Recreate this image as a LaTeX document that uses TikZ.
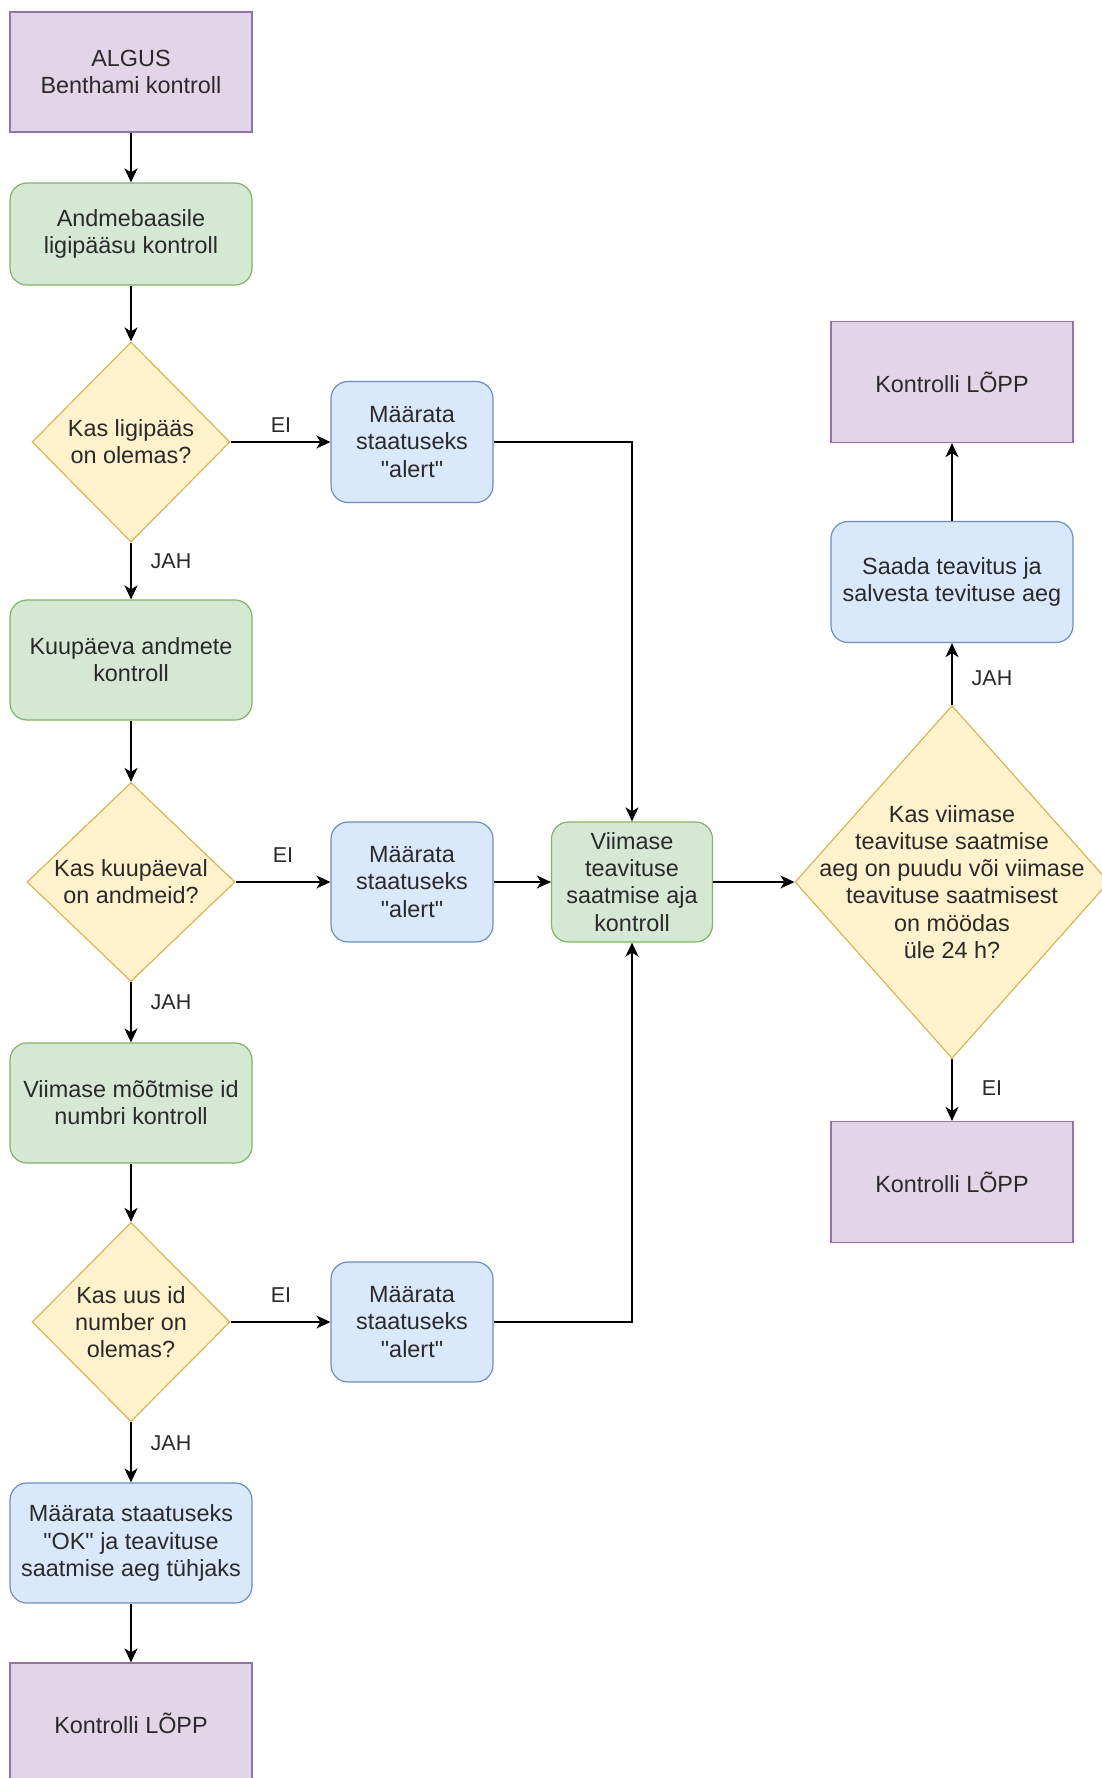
\documentclass[tikz,border=0pt]{standalone}
\usepackage{fontspec}
\setmainfont{Liberation Sans}[Ligatures=TeXOff]
\usetikzlibrary{shapes.geometric,arrows.meta}
\definecolor{pfill}{HTML}{E1D5E7}\definecolor{pdraw}{HTML}{9673A6}
\definecolor{gfill}{HTML}{D5E8D4}\definecolor{gdraw}{HTML}{82B366}
\definecolor{bfill}{HTML}{DAE8FC}\definecolor{bdraw}{HTML}{6C8EBF}
\definecolor{yfill}{HTML}{FFF2CC}\definecolor{ydraw}{HTML}{D6B656}
\definecolor{txt}{HTML}{2A2A2A}
\newcommand{\mainfs}{\fontsize{23.4}{27.2}\selectfont}
\newcommand{\labfs}{\fontsize{21.5}{25}\selectfont}
\begin{document}
\begin{tikzpicture}[x=1pt,y=-1pt,
  box/.style={draw, line width=1.2pt, minimum width=242pt, minimum height=120pt,
    inner sep=0pt, align=center, font=\mainfs, text=txt},
  term/.style={box, fill=pfill, draw=pdraw},
  proc/.style={box, fill=gfill, draw=gdraw, rounded corners=17pt},
  act/.style={box, fill=bfill, draw=bdraw, rounded corners=17pt},
  dec/.style={diamond, draw=ydraw, fill=yfill, line width=1.2pt, inner sep=0pt, aspect=1},
  dtxt/.style={align=center, font=\mainfs, text=txt, inner sep=0pt},
  lab/.style={font=\labfs, text=txt, inner sep=0pt},
  conn/.style={draw=black, line width=1.8pt, -{Stealth[length=14pt,width=13pt,inset=4pt]}}
]
\clip (0,0) rectangle (1102,1778);
\fill[white] (0,0) rectangle (1102,1778);

% left column
\node[term] (start) at (131,72) {ALGUS\\Benthami kontroll};
\node[proc, minimum height=102pt] (a1) at (131,234) {Andmebaasile\\ligipääsu kontroll};
\node[dec, minimum width=198pt, minimum height=200pt] (d1) at (131,442) {};
\node[dtxt] (d1t) at (131,442) {Kas ligipääs\\on olemas?};
\node[act, minimum width=162pt, minimum height=121pt] (b1) at (412,442) {Määrata\\staatuseks\\"alert"};

\node[proc] (a2) at (131,660) {Kuupäeva andmete\\kontroll};
\node[dec, minimum width=208pt, minimum height=199pt] (d2) at (131,882) {};
\node[dtxt] (d2t) at (131,882) {Kas kuupäeval\\on andmeid?};
\node[act, minimum width=162pt] (b2) at (412,882) {Määrata\\staatuseks\\"alert"};

\node[proc] (a3) at (131,1103) {Viimase mõõtmise id\\numbri kontroll};
\node[dec, minimum width=198pt, minimum height=199pt] (d3) at (131,1322) {};
\node[dtxt] (d3t) at (131,1322) {Kas uus id\\number on\\olemas?};
\node[act, minimum width=162pt] (b3) at (412,1322) {Määrata\\staatuseks\\"alert"};

\node[act] (ok) at (131,1543) {Määrata staatuseks\\"OK" ja teavituse\\saatmise aeg tühjaks};
\node[term] (e3) at (131,1723) {Kontrolli LÕPP};

% middle
\node[proc, minimum width=161pt] (g) at (632,882) {Viimase\\teavituse\\saatmise aja\\kontroll};

% right column
\node[dec, minimum width=314pt, minimum height=353pt] (bd) at (952,882) {};
\node[dtxt] (bdt) at (952,882) {Kas viimase\\teavituse saatmise\\aeg on puudu või viimase\\teavituse saatmisest\\on möödas\\üle 24 h?};
\node[act, minimum height=121pt] (s) at (952,582) {Saada teavitus ja\\salvesta tevituse aeg};
\node[term, minimum height=121pt] (e1) at (952,382) {Kontrolli LÕPP};
\node[term, minimum height=121pt] (e2) at (952,1182) {Kontrolli LÕPP};

% connectors
\draw[conn] (start) -- (a1);
\draw[conn] (a1) -- (d1);
\draw[conn] (d1.east) -- (b1.west);
\draw[conn] (d1.south) -- (a2.north);
\draw[conn] (a2) -- (d2);
\draw[conn] (d2.east) -- (b2.west);
\draw[conn] (d2.south) -- (a3.north);
\draw[conn] (a3) -- (d3);
\draw[conn] (d3.east) -- (b3.west);
\draw[conn] (d3.south) -- (ok.north);
\draw[conn] (ok) -- (e3);
\draw[conn] (b1.east) -| (g.north);
\draw[conn] (b2.east) -- (g.west);
\draw[conn] (b3.east) -| (g.south);
\draw[conn] (g.east) -- (bd.west);
\draw[conn] (bd.north) -- (s.south);
\draw[conn] (s.north) -- (e1.south);
\draw[conn] (bd.south) -- (e2.north);

% labels
\node[lab] (l1) at (281,425) {EI};
\node[lab] (l2) at (283,855) {EI};
\node[lab] (l3) at (281,1295) {EI};
\node[lab] (j1) at (171,561) {JAH};
\node[lab] (j2) at (171,1002) {JAH};
\node[lab] (j3) at (171,1443) {JAH};
\node[lab] (j4) at (992,678) {JAH};
\node[lab] (l4) at (992,1088) {EI};
\end{tikzpicture}
\end{document}
